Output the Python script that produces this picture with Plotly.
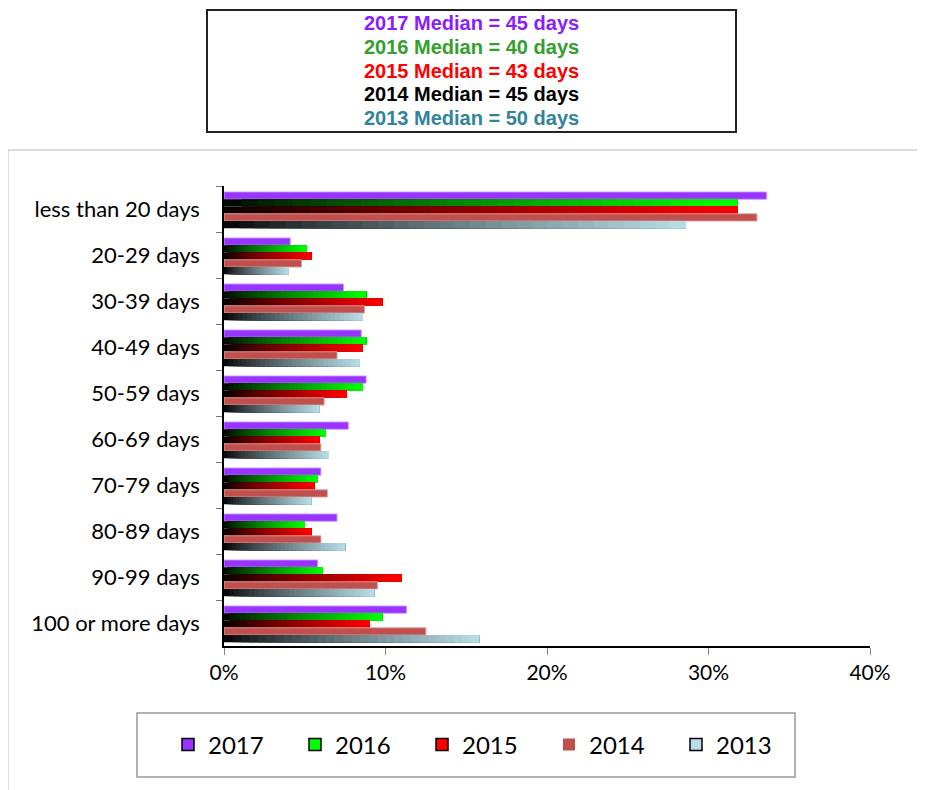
import plotly.graph_objects as go

categories = ["less than 20 days", "20-29 days", "30-39 days", "40-49 days", "50-59 days",
              "60-69 days", "70-79 days", "80-89 days", "90-99 days", "100 or more days"]
years = ["2017", "2016", "2015", "2014", "2013"]
v2017 = [33.6, 4.1, 7.4, 8.5, 8.8, 7.7, 6.0, 7.0, 5.8, 11.3]
v2016 = [31.8, 5.1, 8.8, 8.8, 8.6, 6.3, 5.8, 5.0, 6.1, 9.8]
v2015 = [31.8, 5.4, 9.8, 8.6, 7.6, 5.9, 5.6, 5.4, 11.0, 9.0]
v2014 = [33.0, 4.8, 8.7, 7.0, 6.2, 6.0, 6.4, 6.0, 9.5, 12.5]
v2013 = [28.6, 4.0, 8.6, 8.4, 5.9, 6.5, 5.4, 7.5, 9.3, 15.8]
medians = ["2017 Median = 45 days", "2016 Median = 40 days", "2015 Median = 43 days",
           "2014 Median = 45 days", "2013 Median = 50 days"]

series = [v2017, v2016, v2015, v2014, v2013]
# (end colour, gradient?, outline colour)
styles = [
    ((153, 51, 255), False, "rgba(204,153,255,0.9)"),
    ((0, 255, 0), True, None),
    ((255, 0, 0), True, None),
    ((192, 80, 77), False, "rgba(230,160,158,0.9)"),
    ((183, 222, 232), True, None),
]
text_colors = ["#8B1CFF", "#33A02C", "#FF0000", "#000000", "#31849B"]

W = 0.158
START = -0.37
NSEG = 30

# page body has an 8px offset; plot area in window pixels: x 224..870, y 186..646
OFF = 8
PX0, PX1, PY0, PY1 = 224, 870, 186, 646


def px(x):
    return (x - PX0) / (PX1 - PX0)


def py(y):
    return (PY1 - y) / (PY1 - PY0)


fig = go.Figure()
for i, (yr, vals, (col, grad, outline)) in enumerate(zip(years, series, styles)):
    frac = [v / 100 for v in vals]
    off = START + i * W
    if grad:
        for k in range(NSEG):
            t = ((k + 0.5) / NSEG) ** 0.8
            c = "rgb(%d,%d,%d)" % tuple(round(ch * t) for ch in col)
            fig.add_trace(go.Bar(
                y=categories, x=[f * (1 - k / NSEG) for f in frac],
                base=[f * k / NSEG for f in frac], orientation="h",
                width=W, offset=off, marker=dict(color=c, line=dict(width=0)),
                showlegend=False, hoverinfo="skip"))
    else:
        fig.add_trace(go.Bar(
            y=categories, x=frac, orientation="h", width=W, offset=off,
            marker=dict(color="rgb(%d,%d,%d)" % col, line=dict(width=1, color=outline)),
            showlegend=False, hoverinfo="skip"))

# legend-only entries
for yr, (col, grad, outline) in zip(years, styles):
    fig.add_trace(go.Bar(
        y=[None], x=[None], orientation="h", name=yr,
        marker=dict(color="rgb(%d,%d,%d)" % col,
                    line=dict(width=1.5 if yr != "2014" else 0, color="black")),
        showlegend=True))

ann = []
for j, (txt, tc) in enumerate(zip(medians, text_colors)):
    ypix = 23 + j * 23.75
    ann.append(dict(text="<b>%s</b>" % txt, x=px(471), y=py(ypix),
                    xref="paper", yref="paper", showarrow=False,
                    xanchor="center", yanchor="middle",
                    font=dict(family="Liberation Sans", size=20, color=tc)))

shapes = [
    dict(type="rect", xref="paper", yref="paper", x0=px(8), x1=px(960),
         y0=py(830), y1=py(150), line=dict(color="#BBBBBB", width=1), layer="below"),
    dict(type="rect", xref="paper", yref="paper", x0=px(207), x1=px(736),
         y0=py(132), y1=py(10), line=dict(color="#222222", width=2)),
    dict(type="rect", xref="paper", yref="paper", x0=px(137), x1=px(795),
         y0=py(777), y1=py(713), line=dict(color="#999999", width=1.5)),
]

fig.update_layout(
    width=925, height=790,
    margin=dict(l=PX0 - OFF, r=925 - (PX1 - OFF), t=PY0 - OFF, b=790 - (PY1 - OFF),
                autoexpand=False),
    paper_bgcolor="white", plot_bgcolor="white",
    barmode="overlay",
    font=dict(family="Lato", size=19, color="black"),
    xaxis=dict(range=[0, 0.4], dtick=0.1, tickformat=".0%", showgrid=False, zeroline=False,
               showline=True, linecolor="black", linewidth=1.5, ticks="outside",
               ticklen=7, tickcolor="#888888", tickfont=dict(size=21)),
    yaxis=dict(type="category", autorange="reversed", showgrid=False, zeroline=False,
               showline=True, linecolor="black", linewidth=1.5, ticks="outside",
               tickson="boundaries", ticklen=6, tickcolor="#777777",
               ticklabelstandoff=18, tickfont=dict(size=22)),
    legend=dict(orientation="h", x=px(168), xanchor="left",
                y=py(745), yanchor="middle", font=dict(size=24),
                entrywidth=82, bgcolor="rgba(0,0,0,0)"),
    annotations=ann, shapes=shapes, showlegend=True,
)

fig.write_html("out.html")
